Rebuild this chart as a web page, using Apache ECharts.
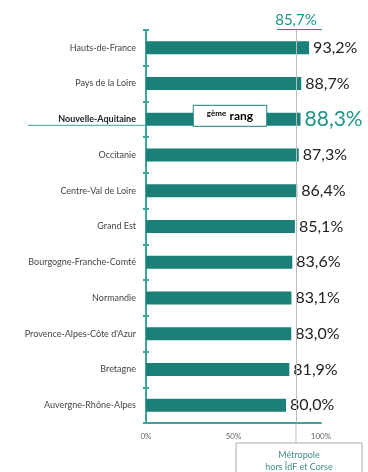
<!DOCTYPE html>
<html><head><meta charset="utf-8">
<script src="https://cdn.jsdelivr.net/npm/echarts@6/dist/echarts.min.js"></script>
<style>html,body{margin:0;padding:0;background:#fff}#c{width:368px;height:472px}</style>
</head><body><div id="c"></div>
<script>
var categories = ["Hauts-de-France","Pays de la Loire","Nouvelle-Aquitaine","Occitanie","Centre-Val de Loire","Grand Est","Bourgogne-Franche-Comté","Normandie","Provence-Alpes-Côte d'Azur","Bretagne","Auvergne-Rhône-Alpes"];
var values = [93.2,88.7,88.3,87.3,86.4,85.1,83.6,83.1,83.0,81.9,80.0];
var refValue = 85.7;
var refLabel = "85,7%";
var highlight = "Nouvelle-Aquitaine";
var xTicks = [0,50,100];
var boxText = ["Métropole","hors ÎdF et Corse"];

var TEAL = "#1a8078", AXIS = "#3aa69b", FONT = "Lato, 'Open Sans', sans-serif";
var chart = echarts.init(document.getElementById('c'));
function fmt(v){return v.toFixed(1).replace('.',',')+'%';}
chart.setOption({
  animation:false,
  grid:{left:146,right:47,top:30,bottom:49},
  xAxis:{type:'value',min:0,max:100,interval:50,
    axisLine:{show:true,lineStyle:{color:AXIS,width:2}},axisTick:{show:false},splitLine:{show:false},
    axisLabel:{fontSize:8,color:'#666',fontFamily:FONT,margin:9,formatter:function(v){return v+'%';}}},
  yAxis:[{type:'category',data:categories,inverse:true,
    axisLine:{lineStyle:{color:AXIS,width:2}},
    axisTick:{show:true,length:3,lineStyle:{color:AXIS,width:2}},
    axisLabel:{fontSize:9,color:'#444',fontFamily:FONT,margin:10,
      formatter:function(v){return v===highlight?'{b|'+v+'}':v;},
      rich:{b:{fontSize:9,fontWeight:'bold',color:'#222',fontFamily:FONT}}}},
    {type:'category',data:categories,inverse:true,position:'left',
    axisLine:{show:false},axisLabel:{show:false},
    axisTick:{show:true,inside:true,length:3,lineStyle:{color:AXIS,width:2}}}],
  series:[{type:'bar',barWidth:13,
    data:values.map(function(v,i){
      var hl = categories[i]===highlight;
      return {value:v,label:hl?{fontSize:21,color:'#1f9488'}:{}};
    }),
    itemStyle:{color:TEAL},
    label:{show:true,position:'right',distance:4,fontSize:16,color:'#222',fontFamily:FONT,
      formatter:function(p){return fmt(p.value);}},
    markLine:{silent:true,symbol:'none',lineStyle:{color:'#bbb',width:1,type:'solid'},
      label:{show:true,position:'start',formatter:refLabel,fontSize:15,color:'#1f9488',fontFamily:FONT,distance:2},
      data:[{xAxis:refValue}]}
  }]
});
// annotations positioned from the library's scales
var rx = chart.convertToPixel({xAxisIndex:0},refValue);
var hy = chart.convertToPixel({yAxisIndex:0},highlight);
var x0 = chart.convertToPixel({xAxisIndex:0},0);
var bx0 = chart.convertToPixel({xAxisIndex:0},27), bx1 = chart.convertToPixel({xAxisIndex:0},69);
var bottomY = chart.convertToPixel({yAxisIndex:0},categories[categories.length-1]) + 18;
chart.setOption({graphic:[
  {type:'line',shape:{x1:rx-19,y1:29.5,x2:rx+26,y2:29.5},style:{stroke:'#1f9488',lineWidth:1}},
  {type:'line',shape:{x1:rx,y1:bottomY,x2:rx,y2:443},style:{stroke:'#bbb',lineWidth:1}},
  {type:'line',shape:{x1:28,y1:hy+6,x2:x0,y2:hy+6},style:{stroke:'#3aa69b',lineWidth:1}},
  {type:'rect',shape:{x:bx0,y:hy-14,width:bx1-bx0,height:21},style:{fill:'#fff',stroke:'#1a8078',lineWidth:1},z:100},
  {type:'text',x:(bx0+bx1)/2,y:hy-3.5,z:101,style:{text:'{s|gème} {r|rang}',align:'center',verticalAlign:'middle',
    rich:{s:{fontSize:8,fontWeight:'bold',color:'#1f9488',fontFamily:FONT,verticalAlign:'top'},
          r:{fontSize:12,fontWeight:'bold',color:'#1f9488',fontFamily:FONT}}}},
  {type:'rect',shape:{x:236,y:443,width:126,height:40},style:{fill:'#fff',stroke:'#aaa',lineWidth:1}},
  {type:'text',x:299,y:455,style:{text:boxText[0],align:'center',verticalAlign:'middle',fontSize:9,fill:'#3f8f88',fontFamily:FONT}},
  {type:'text',x:299,y:467,style:{text:boxText[1],align:'center',verticalAlign:'middle',fontSize:9,fill:'#3f8f88',fontFamily:FONT}}
]});
</script></body></html>
